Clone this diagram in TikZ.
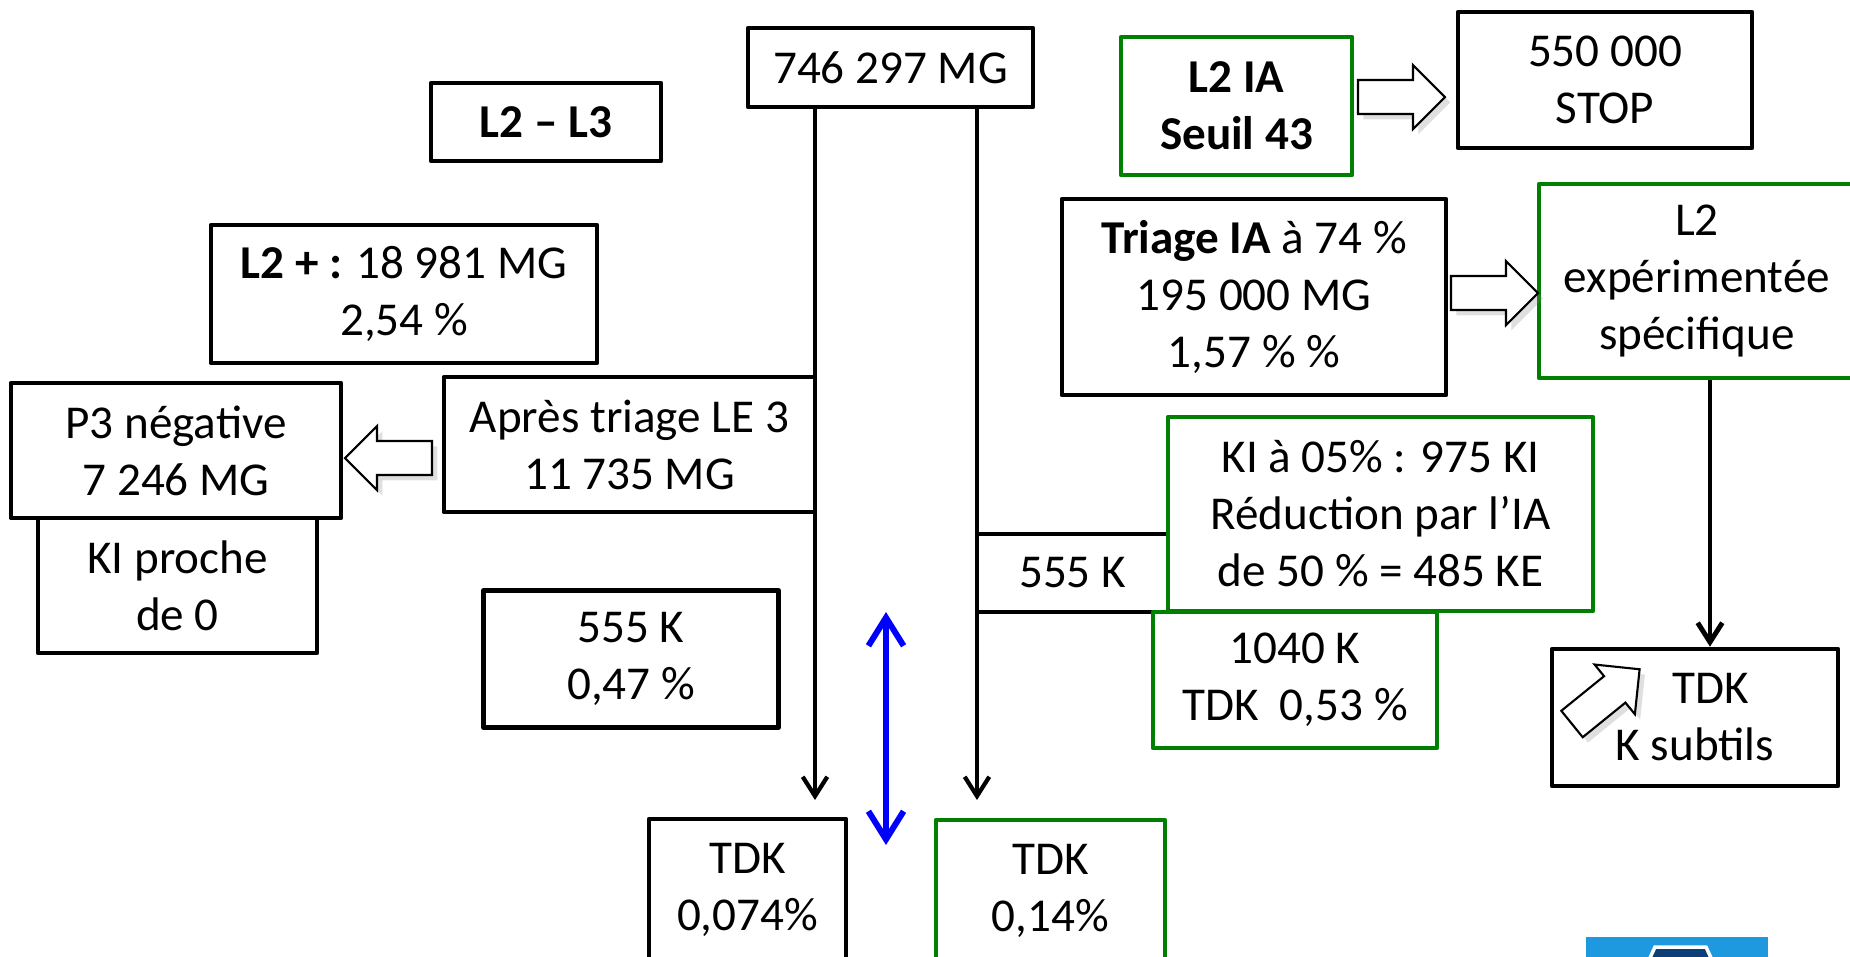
\documentclass[tikz,border=0pt]{standalone}
\usepackage{fontspec}
\setmainfont{Carlito}
\usetikzlibrary{arrows.meta,shadows}

\definecolor{boxgreen}{RGB}{0,128,0}
\definecolor{logoblue}{RGB}{30,152,222}
\definecolor{logodark}{RGB}{12,62,120}

\tikzset{hollowarrow/.pic={
  \filldraw[fill=white,draw=black,line width=0.6pt,line join=miter,
    drop shadow={opacity=0.25,shadow xshift=1.5pt,shadow yshift=-1.5pt}]
    (0,-17) -- (55,-17) -- (55,-32) -- (87,0) -- (55,32) -- (55,17) -- (0,17) -- cycle;
}}

\begin{document}
\begin{tikzpicture}[x=0.01cm,y=-0.01cm,font=\fontsize{13.4}{16.2}\selectfont]
            \tikzstyle{box}=[draw=black,line width=1.3pt,fill=white,align=center,inner sep=0pt,line join=round]
            \tikzstyle{gbox}=[box,draw=boxgreen,line width=1.15pt]
            \tikzstyle{flow}=[line width=1.2pt,-{Straight Barb[length=5.5pt,width=7pt]}]
            \tikzstyle{twoway}=[blue,line width=1.7pt,line cap=round,{Straight Barb[length=8pt,width=10pt]}-{Straight Barb[length=8pt,width=10pt]}]

            \useasboundingbox (0,0) rectangle (1850,956);

            % points where the two branches stop
            \coordinate (L-end) at (815,800);
            \coordinate (R-end) at (977,800);
            \coordinate (K-x) at (1710,0);
            \coordinate (D-top) at (886,612);
            \coordinate (D-bot) at (886,845);

            \node[box,minimum width=2.85cm,minimum height=0.79cm] (B-top) at (890.5,67.5) {746 297 MG};

            \draw[flow] (B-top.south -| L-end) -- (L-end);
            \draw[flow] (B-top.south -| R-end) -- (R-end);
            \draw[twoway] (D-top) -- (D-bot);

            \node[box,minimum width=2.30cm,minimum height=0.78cm] (B-l23) at (546,122) {\textbf{L2 – L3}};
            \node[box,minimum width=3.86cm,minimum height=1.38cm] (B-l2plus) at (404,294) {\textbf{L2 + :} 18 981 MG\\2,54 \%};
            \node[box,minimum width=3.71cm,minimum height=1.35cm] (B-apres) at (629.5,444.5) {Après triage LE 3\\11 735 MG};
            \node[box,minimum width=2.79cm,minimum height=1.35cm] (B-kiproche) at (177.5,585.5) {KI proche\\de 0};
            \node[box,minimum width=3.30cm,minimum height=1.35cm] (B-p3) at (176,450.5) {P3 négative\\7 246 MG};
            \node[box,minimum width=2.95cm,minimum height=1.37cm] (B-k555l) at (631,659) {555 K\\0,47 \%};
            \node[box,minimum width=1.97cm,minimum height=1.42cm] (B-tdkl) at (747.5,890) {TDK\\0,074\%};
            \node[gbox,minimum width=2.29cm,minimum height=1.41cm] (B-tdkr) at (1050.5,890.5) {TDK\\0,14\%};

            \node[gbox,minimum width=2.31cm,minimum height=1.38cm] (B-l2ia) at (1236.5,106) {\textbf{L2 IA}\\\textbf{Seuil 43}};
            \node[box,minimum width=2.94cm,minimum height=1.36cm] (B-stop) at (1605,80) {550 000\\STOP};
            \node[box,minimum width=3.84cm,minimum height=1.96cm] (B-triage) at (1254,297) {\textbf{Triage IA} à 74 \%\\195 000 MG\\1,57 \% \%};
            \node[gbox,minimum width=3.16cm,minimum height=1.94cm] (B-l2exp) at (1697,281) {L2\\expérimentée\\spécifique};

            \node[box,minimum width=1.91cm,minimum height=0.78cm] (B-k555r) at (1072.5,573) {555 K};
            \node[gbox,minimum width=4.25cm,minimum height=1.94cm] (B-kiia) at (1380.5,514) {KI à 05\% : 975 KI\\Réduction par l’IA\\de 50 \% = 485 KE};
            \node[gbox,minimum width=2.84cm,minimum height=1.36cm] (B-k1040) at (1295,680) {1040 K\\TDK\ \ 0,53 \%};
            \node[box,minimum width=2.86cm,minimum height=1.37cm] (B-subtils) at (1695,717.5) {\hspace*{0.32cm}TDK\\K subtils};

            \draw[flow,line width=1.4pt] (B-l2exp.south -| K-x) -- (B-subtils.north -| K-x);

            \pic[rotate=180] at (432,458) {hollowarrow};
            \pic at (1358,97) {hollowarrow};
            \pic at (1451,293) {hollowarrow};
            \pic[rotate=39] at (1572,724) {hollowarrow};

            % logo cut by the lower edge
            \fill[logoblue] (1586,937) rectangle (1768,960);
            \filldraw[fill=logodark,draw=white,line width=1pt] (1649,960) -- (1655,947) -- (1706,947) -- (1712,960);
        \end{tikzpicture}
\end{document}
